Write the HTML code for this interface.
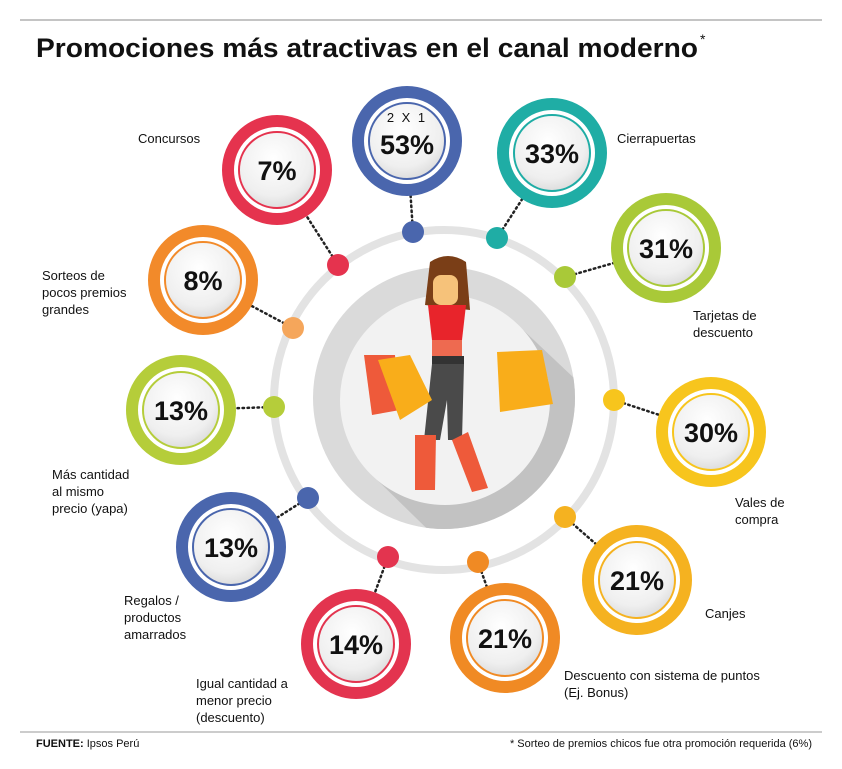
<!DOCTYPE html>
<html><head><meta charset="utf-8">
<style>
body{margin:0;background:#fff;width:842px;height:769px;overflow:hidden;font-family:"Liberation Sans",sans-serif;}
svg{display:block}
</style></head>
<body>
<svg id="chart" width="842" height="769" viewBox="0 0 842 769">
<defs>
<radialGradient id="inner" cx="45%" cy="35%" r="70%">
<stop offset="0" stop-color="#ffffff"/><stop offset="0.7" stop-color="#efefef"/><stop offset="1" stop-color="#d8d8d8"/>
</radialGradient>
<clipPath id="grayclip"><circle cx="444" cy="398" r="131"/></clipPath>
</defs>
<line x1="20" y1="20" x2="822" y2="20" stroke="#888" stroke-width="1"/>
<text x="36" y="57" font-size="27" font-weight="bold" fill="#111" textLength="662" lengthAdjust="spacingAndGlyphs">Promociones más atractivas en el canal moderno</text>
<text x="700" y="44" font-size="14" fill="#111">*</text>
<g id="center">
<circle cx="444" cy="400" r="170" fill="none" stroke="#e3e3e3" stroke-width="8"/>
<circle cx="444" cy="398" r="131" fill="#dadada"/>
<g clip-path="url(#grayclip)">
<path d="M519,326 L371,474 L500,600 L650,450 Z" fill="#c2c2c2"/>
</g>
<circle cx="445" cy="400" r="105" fill="#f2f2f2"/>
<!-- woman -->
<path d="M430,262 Q448,250 466,262 L470,310 L425,305 Z" fill="#7a3e17"/>
<rect x="433" y="275" width="25" height="30" rx="8" fill="#f6c27a"/>
<path d="M428,305 L466,305 L462,340 L432,340 Z" fill="#e8242b"/>
<rect x="432" y="340" width="30" height="16" fill="#ee6a50"/>
<rect x="432" y="356" width="32" height="8" fill="#333"/>
<path d="M432,364 L464,364 L462,440 L448,440 L447,400 L440,440 L424,440 Z" fill="#4a4a4a"/>
<path d="M415,435 L436,435 L435,490 L415,490 Z" fill="#ee5a3a"/>
<path d="M452,440 L468,432 L488,488 L472,492 Z" fill="#ee5a3a"/>
<path d="M364,355 L395,355 L400,410 L372,415 Z" fill="#ee5a3a"/>
<path d="M378,360 L410,355 L432,400 L400,420 Z" fill="#f9ad1a"/>
<path d="M497,352 L542,350 L553,404 L500,412 Z" fill="#f9ad1a"/>
</g>
<g id="items"></g>
<line x1="20" y1="732" x2="822" y2="732" stroke="#999" stroke-width="1"/>
<text x="36" y="747" font-size="11" fill="#111"><tspan font-weight="bold">FUENTE:</tspan> Ipsos Perú</text>
<text x="812" y="747" font-size="11" fill="#111" text-anchor="end">* Sorteo de premios chicos fue otra promoción requerida (6%)</text>
</svg>
<script>
const categories=["2 X 1","Cierrapuertas","Tarjetas de descuento","Vales de compra","Canjes","Descuento con sistema de puntos (Ej. Bonus)","Igual cantidad a menor precio (descuento)","Regalos / productos amarrados","Más cantidad al mismo precio (yapa)","Sorteos de pocos premios grandes","Concursos"];
const values=[53,33,31,30,21,21,14,13,13,8,7];
const colors=["#4a66ad","#1fada5","#a9c938","#f7c51d","#f5b220","#f08a24","#e3344f","#4a66ad","#b5cd3a","#f28a2a","#e5334e"];
const dotColors=["#4a66ad","#1fada5","#a9c938","#f7c51d","#f5b220","#f08a24","#e3344f","#4a66ad","#b5cd3a","#f5a65b","#e5334e"];
// layout (not data)
const layout=[
 {d:[413,232],c:[407,141],lbl:[]},
 {d:[497,238],c:[552,153],lbl:[[617,143,"Cierrapuertas"]]},
 {d:[565,277],c:[666,248],lbl:[[693,320,"Tarjetas de"],[693,337,"descuento"]]},
 {d:[614,400],c:[711,432],lbl:[[735,507,"Vales de"],[735,524,"compra"]]},
 {d:[565,517],c:[637,580],lbl:[[705,618,"Canjes"]]},
 {d:[478,562],c:[505,638],lbl:[[564,680,"Descuento con sistema de  puntos"],[564,697,"(Ej. Bonus)"]]},
 {d:[388,557],c:[356,644],lbl:[[196,688,"Igual cantidad a"],[196,705,"menor precio"],[196,722,"(descuento)"]]},
 {d:[308,498],c:[231,547],lbl:[[124,605,"Regalos /"],[124,622,"productos"],[124,639,"amarrados"]]},
 {d:[274,407],c:[181,410],lbl:[[52,479,"Más cantidad"],[52,496,"al mismo"],[52,513,"precio (yapa)"]]},
 {d:[293,328],c:[203,280],lbl:[[42,280,"Sorteos de"],[42,297,"pocos premios"],[42,314,"grandes"]]},
 {d:[338,265],c:[277,170],lbl:[[138,143,"Concursos"]]}
];
const NS="http://www.w3.org/2000/svg";
const g=document.getElementById("items");
function mk(t,a,p){const e=document.createElementNS(NS,t);for(const k in a)e.setAttribute(k,a[k]);(p||g).appendChild(e);return e;}
values.forEach((v,i)=>{
 const L=layout[i];
 const grp=mk("g",{});
 
 
 const ln=mk("line",{x1:L.d[0],y1:L.d[1],x2:L.c[0],y2:L.c[1],stroke:"#222","stroke-width":2.5,"stroke-dasharray":"1.5 3.5","stroke-linecap":"round"},grp);
 
 
 const dot=mk("circle",{cx:L.d[0],cy:L.d[1],r:11,fill:dotColors[i]},grp);
 
 
 const outer=mk("circle",{cx:L.c[0],cy:L.c[1],r:49,fill:"#fff",stroke:colors[i],"stroke-width":12},grp);
 
 
 const inner=mk("circle",{cx:L.c[0],cy:L.c[1],r:38,fill:"url(#inner)",stroke:colors[i],"stroke-width":2},grp);
 
 
 const ty=i===0?L.c[1]+13:L.c[1]+10;
 const t=mk("text",{x:L.c[0],y:ty,"text-anchor":"middle","font-size":27,"font-weight":"bold",fill:"#111"},grp);
 t.textContent=v+"%";
 
 
 if(i===0){
  const s=mk("text",{x:L.c[0],y:L.c[1]-19,"text-anchor":"middle","font-size":13,fill:"#111","letter-spacing":"2"},grp);
  s.textContent=categories[0];
  
  
 }
 L.lbl.forEach(l=>{
  const c=mk("text",{x:l[0],y:l[1],"font-size":13,fill:"#111"},grp);
  c.textContent=l[2];
  
  
 });
});
</script>
</body></html>
